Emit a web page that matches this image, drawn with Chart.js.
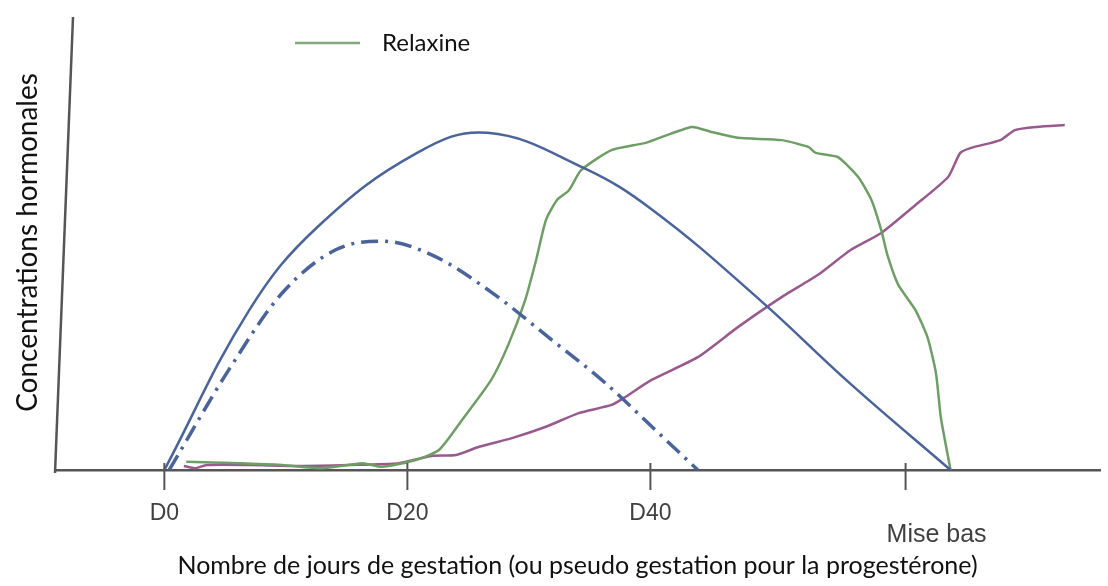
<!DOCTYPE html>
<html>
<head>
<meta charset="utf-8">
<script src="https://cdn.jsdelivr.net/npm/chart.js@4"></script>
<style>
  html, body { margin: 0; padding: 0; background: #fff; }
</style>
</head>
<body>
<canvas id="chart" width="1108" height="586"></canvas>
<script>
// x axis ticks (days)
const tickDays = [0, 20, 40];
const tickLabels = ['D0', 'D20', 'D40'];
const miseBasDay = 61;
const miseBasLabel = 'Mise bas';

// progesterone, gestation (solid blue)
const progDays = [0, 7.0, 12.6, 20.8, 26.6, 34.5, 40.2, 49.0, 56.4, 64.7];
const progValues = [0, 35.2, 53.4, 69.7, 74.1, 66.4, 57.1, 37.4, 19.1, 0];

// progesterone, pseudo gestation (dash-dot blue)
const pseudoDays = [0.4, 5.3, 9.7, 14.1, 17.9, 22.0, 26.9, 31.6, 36.3, 40.4, 43.9];
const pseudoValues = [0, 22.0, 38.9, 48.4, 50.3, 47.3, 39.1, 29.2, 19.1, 8.8, 0];

// relaxine (green)
const relaxDays = [1.8, 6.2, 9.7, 13.0, 16.3, 17.9, 20.7, 22.6, 24.5, 26.9, 28.3, 29.7, 30.6, 31.4, 32.3, 33.3, 34.3,
  36.8, 39.6, 43.4, 45.0, 47.2, 50.8, 53.0, 53.6, 55.4, 57.1, 58.2, 59.0, 59.5, 60.4, 61.8, 62.8, 63.5, 63.9, 64.7];
const relaxValues = [1.8, 1.5, 1.1, 0.4, 1.5, 0.7, 2.2, 4.4, 11.0, 19.8, 27.5, 37.4, 46.2, 54.9, 59.3, 61.5, 65.9,
  70.3, 71.9, 75.4, 74.3, 73.0, 72.5, 71.0, 69.7, 68.8, 64.4, 59.3, 52.7, 47.3, 40.7, 35.2, 29.2, 21.3, 11.6, 0];

// prolactine (purple)
const prolDays = [1.6, 2.5, 3.5, 7.0, 11.1, 15.2, 19.3, 22.0, 24.0, 25.9, 28.6, 31.4, 34.1, 36.8, 37.9, 40.1, 43.9,
  47.2, 50.8, 53.8, 56.5, 59.0, 61.8, 64.5, 65.5, 66.4, 68.8, 70.0, 71.8, 74.1];
const prolValues = [0.9, 0.4, 1.1, 1.1, 0.9, 1.1, 1.5, 3.1, 3.3, 5.1, 7.0, 9.5, 12.5, 14.3, 16.0, 19.8, 24.8,
  31.4, 38.0, 42.9, 48.4, 52.1, 58.2, 64.4, 69.7, 70.8, 72.5, 74.7, 75.4, 75.8];

const blue = '#4a6399';
const green = '#6e9e66';
const purple = '#985a8c';
const axisColor = '#555555';

const toPoints = (days, values) => days.map((d, i) => ({ x: d, y: values[i] }));

const decorPlugin = {
  id: 'decor',
  afterDraw(chart) {
    const { ctx, chartArea: a, scales: { x } } = chart;
    ctx.save();
    ctx.strokeStyle = axisColor;
    // slanted y axis like the drawing
    ctx.lineWidth = 2.5;
    ctx.beginPath();
    ctx.moveTo(a.left, a.bottom + 3);
    ctx.lineTo(a.left + 18, a.top + 2);
    ctx.stroke();
    // tick marks crossing the x axis
    ctx.lineWidth = 2;
    [...tickDays, miseBasDay].forEach(d => {
      const px = x.getPixelForValue(d);
      ctx.beginPath();
      ctx.moveTo(px, a.bottom - 7);
      ctx.lineTo(px, a.bottom + 20);
      ctx.stroke();
    });
    // "Mise bas" label, a bit lower and right of its tick
    ctx.fillStyle = '#404040';
    ctx.font = '25px "Liberation Sans", Arial, sans-serif';
    ctx.textAlign = 'center';
    ctx.textBaseline = 'middle';
    ctx.fillText(miseBasLabel, x.getPixelForValue(miseBasDay) + 31, a.bottom + 65);
    // legend: only relaxine
    ctx.strokeStyle = '#80a87a';
    ctx.lineWidth = 2.5;
    ctx.beginPath();
    ctx.moveTo(a.left + 240, a.top + 28);
    ctx.lineTo(a.left + 305, a.top + 28);
    ctx.stroke();
    ctx.fillStyle = '#111';
    ctx.font = '24px Lato, sans-serif';
    ctx.textAlign = 'left';
    ctx.fillText('Relaxine', a.left + 327, a.top + 28);
    ctx.restore();
  }
};

new Chart(document.getElementById('chart'), {
  type: 'line',
  data: {
    datasets: [
      {
        label: 'Progestérone (gestation)',
        data: toPoints(progDays, progValues),
        borderColor: blue,
        borderWidth: 2.5,
        tension: 0.4
      },
      {
        label: 'Progestérone (pseudo gestation)',
        data: toPoints(pseudoDays, pseudoValues),
        borderColor: blue,
        borderWidth: 3.5,
        borderDash: [17, 7, 3, 7],
        cubicInterpolationMode: 'monotone'
      },
      {
        label: 'Relaxine',
        data: toPoints(relaxDays, relaxValues),
        borderColor: green,
        borderWidth: 2.5,
        tension: 0.2
      },
      {
        label: 'Prolactine',
        data: toPoints(prolDays, prolValues),
        borderColor: purple,
        borderWidth: 2.5,
        tension: 0.2
      }
    ]
  },
  options: {
    responsive: false,
    animation: false,
    elements: { point: { radius: 0 } },
    layout: { padding: { top: 15, right: 8, left: 0, bottom: 0 } },
    plugins: {
      legend: { display: false },
      tooltip: { enabled: false }
    },
    scales: {
      x: {
        type: 'linear',
        min: -9,
        max: 77,
        afterFit: (scale) => { scale.height = 116; },
        afterBuildTicks: (scale) => { scale.ticks = tickDays.map(v => ({ value: v })); },
        grid: { display: false, drawTicks: false },
        border: { display: true, color: axisColor, width: 2.5 },
        ticks: {
          padding: 30,
          color: '#404040',
          font: { family: '"Liberation Sans", Arial, sans-serif', size: 23 },
          callback: (v) => tickLabels[tickDays.indexOf(v)]
        },
        title: {
          display: true,
          text: 'Nombre de jours de gestation (ou pseudo gestation pour la progestérone)',
          color: '#111',
          font: { family: 'Lato, sans-serif', size: 25 },
          padding: { top: 0, bottom: 5 }
        }
      },
      y: {
        min: 0,
        max: 100,
        afterFit: (scale) => { scale.width = 55; },
        grid: { display: false, drawTicks: false },
        border: { display: false },
        ticks: { display: false },
        title: {
          display: true,
          text: 'Concentrations hormonales',
          color: '#111',
          font: { family: 'Lato, sans-serif', size: 28 },
          padding: { top: 11, bottom: 0 }
        }
      }
    }
  },
  plugins: [decorPlugin]
});
</script>
</body>
</html>
